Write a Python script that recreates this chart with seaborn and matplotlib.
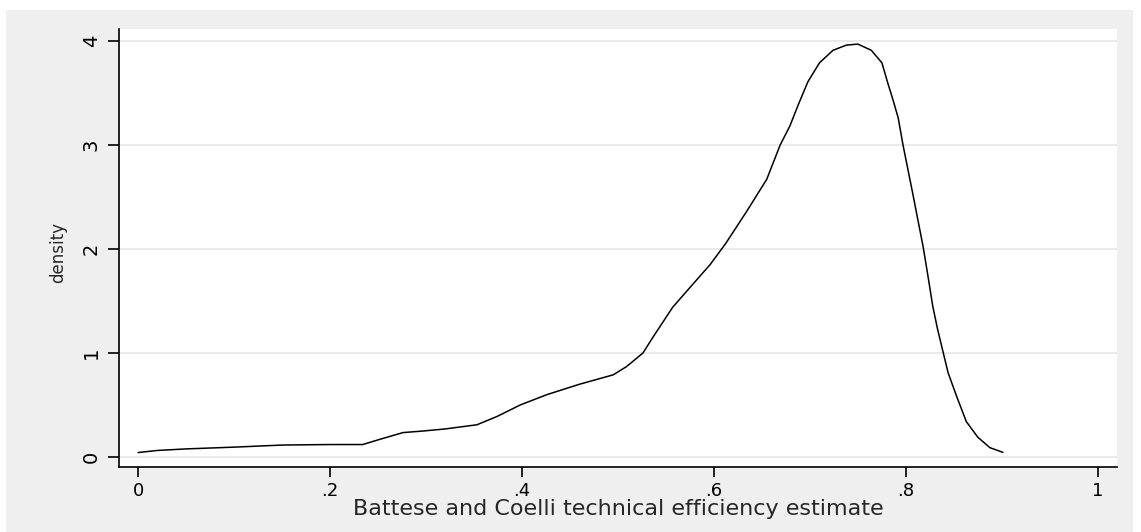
import numpy as np
import pandas as pd
import matplotlib
matplotlib.use('Agg')
import matplotlib.pyplot as plt
from matplotlib.patches import Rectangle
import seaborn as sns

# kernel density of the efficiency scores
efficiency = [0.000, 0.020, 0.050, 0.100, 0.150, 0.200, 0.234, 0.250, 0.276, 0.297,
              0.320, 0.353, 0.374, 0.398, 0.426, 0.460, 0.495, 0.509, 0.526, 0.537,
              0.557, 0.575, 0.596, 0.612, 0.634, 0.655, 0.669, 0.679, 0.688, 0.698,
              0.710, 0.724, 0.738, 0.750, 0.764, 0.775, 0.781, 0.787, 0.792, 0.797,
              0.802, 0.807, 0.8125, 0.818, 0.823, 0.828, 0.833, 0.839, 0.844, 0.853,
              0.863, 0.875, 0.8875, 0.901]
density = [0.043, 0.063, 0.078, 0.095, 0.115, 0.120, 0.120, 0.165, 0.235, 0.250,
           0.270, 0.310, 0.390, 0.500, 0.600, 0.700, 0.790, 0.870, 1.000, 1.160,
           1.440, 1.630, 1.850, 2.050, 2.360, 2.670, 3.000, 3.180, 3.390, 3.610,
           3.790, 3.910, 3.960, 3.970, 3.910, 3.790, 3.600, 3.420, 3.260, 3.000,
           2.770, 2.540, 2.280, 2.020, 1.740, 1.450, 1.230, 1.000, 0.810, 0.580,
           0.340, 0.190, 0.090, 0.045]

x_ticks = [0, 0.2, 0.4, 0.6, 0.8, 1]
x_tick_labels = ['0', '.2', '.4', '.6', '.8', '1']
y_ticks = [0, 1, 2, 3, 4]

df = pd.DataFrame({'efficiency': efficiency, 'density': density})

sns.set_style('white')
plt.rcParams['font.family'] = ['DejaVu Sans']

W, H = 1141, 532
fig = plt.figure(figsize=(W / 100, H / 100), dpi=100, facecolor='white')
# stata style grey frame behind the plot region
fig.patches.append(Rectangle((6 / W, 0), (1133 - 6) / W, (H - 10) / H,
                             transform=fig.transFigure, facecolor='#efefef',
                             edgecolor='none', zorder=-5))
ax = fig.add_axes([119 / W, 1 - 467 / H, (1117 - 119) / W, (467 - 29) / H])
ax.set_zorder(1)
ax.set_facecolor('white')

sns.lineplot(data=df, x='efficiency', y='density', color='black', lw=1.1, ax=ax)

ax.set_xlim(-0.02, 1.02)
ax.set_ylim(-0.096, 4.115)
ax.set_xticks(x_ticks)
ax.set_xticklabels(x_tick_labels)
ax.set_yticks(y_ticks)
ax.grid(axis='y', color='#e6e6e6', lw=1.2)
ax.set_axisbelow(True)

for side in ['top', 'right']:
    ax.spines[side].set_visible(False)
for side in ['left', 'bottom']:
    ax.spines[side].set_color('black')
    ax.spines[side].set_linewidth(1.2)

ax.tick_params(axis='x', direction='out', length=7, width=1.2, pad=4,
               labelsize=13, colors='black', bottom=True)
ax.tick_params(axis='y', direction='out', length=8, width=1.2, pad=5,
               labelsize=14, colors='black', left=True, labelrotation=90)
for t in ax.get_yticklabels():
    t.set_va('center')

ax.set_xlabel('Battese and Coelli technical efficiency estimate', fontsize=16)
ax.xaxis.set_label_coords(0.5, -0.074)
ax.set_ylabel('density', fontsize=12)
ax.yaxis.set_label_coords(-0.052, 0.49)

plt.savefig('out.png', dpi=100, facecolor=fig.get_facecolor())
